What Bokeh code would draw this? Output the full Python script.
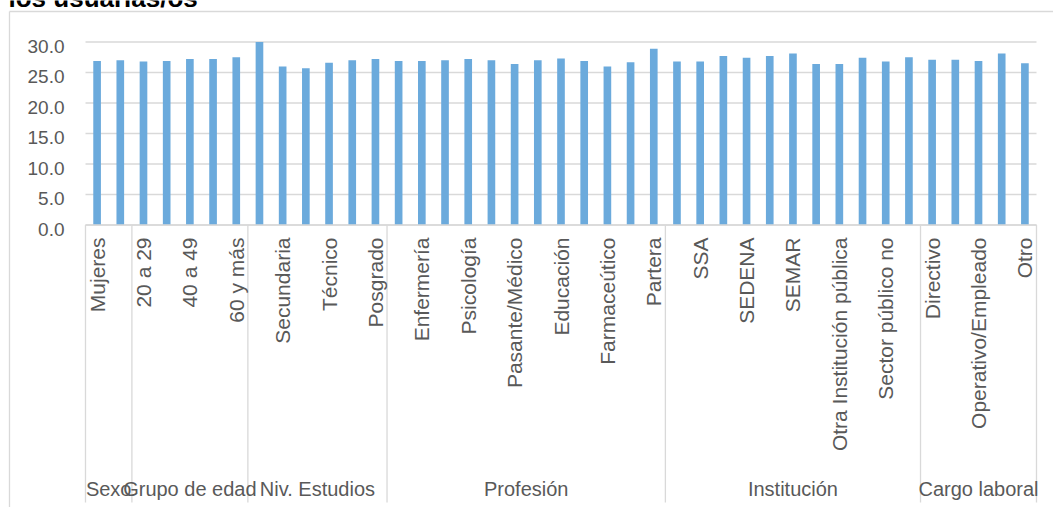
from bokeh.plotting import figure
from bokeh.models import Range1d, ColumnDataSource
from bokeh.core.properties import value
from bokeh.embed import file_html
from bokeh.resources import INLINE
import math

# ---------------- data ----------------
title_text = "los usuarias/os"

group_names = ["Sexo", "Grupo de edad", "Niv. Estudios", "Profesión", "Institución", "Cargo laboral"]
group_sizes = [2, 5, 6, 12, 11, 5]

categories = [
    "Mujeres", "Hombres",
    "20 a 29", "30 a 39", "40 a 49", "50 a 59", "60 y más",
    "Primaria", "Secundaria", "Bachillerato", "Técnico", "Licenciatura", "Posgrado",
    "Medicina", "Enfermería", "Trabajo social", "Psicología", "Nutrición", "Pasante/Médico",
    "Odontología", "Educación", "Promotor de salud", "Farmaceútico", "Químico", "Partera",
    "IMSS", "SSA", "ISSSTE", "SEDENA", "PEMEX", "SEMAR", "Estatal",
    "Otra Institución pública", "Sector privado", "Sector público no", "Ninguna",
    "Directivo", "Mando medio", "Operativo/Empleado", "Eventual", "Otro",
]

values = [
    26.9, 27.0,
    26.8, 26.9, 27.2, 27.2, 27.5,
    30.0, 26.0, 25.7, 26.6, 27.0, 27.2,
    26.9, 26.9, 27.0, 27.2, 27.0, 26.4, 27.0, 27.3, 26.9, 26.0, 26.7, 28.9,
    26.8, 26.8, 27.7, 27.4, 27.7, 28.1, 26.4, 26.4, 27.4, 26.8, 27.5,
    27.1, 27.1, 26.9, 28.1, 26.5,
]

y_ticks = [0, 5, 10, 15, 20, 25, 30]
y_tick_labels = ["0.0", "5.0", "10.0", "15.0", "20.0", "25.0", "30.0"]

# ---------------- layout (pixels) ----------------
W, H = 1053, 507
plot_left, plot_right = 85, 1036
y0_px, ytop_px = 224.5, 41.5          # screen y (from top) of value 0 and of the top tick
n = len(values)
cw = (plot_right - plot_left) / n      # pixels per category
ppu = (y0_px - ytop_px) / y_ticks[-1]  # pixels per value unit

x_start = -plot_left / cw
x_end = n + (W - plot_right) / cw
y_start = -(H - y0_px) / ppu
y_end = y_ticks[-1] + ytop_px / ppu

def fx(px):
    return x_start + px / cw

def fy(py):
    return y_end - py / ppu

FONT = value("Liberation Sans")
GRAY_TXT = "#595959"
LINE = "#D9D9D9"
BAR = "#6BAADC"

p = figure(width=W, height=H, output_backend="svg", toolbar_location=None,
           x_range=Range1d(x_start, x_end), y_range=Range1d(y_start, y_end),
           x_axis_type=None, y_axis_type=None, min_border=0, title=None)
p.outline_line_color = None
p.background_fill_color = "white"
p.border_fill_color = "white"

# chart border (top and left)
p.segment(x0=[fx(9), fx(9)], y0=[fy(11), fy(11)], x1=[fx(W), fx(9)], y1=[fy(11), fy(H)],
          line_color=LINE, line_width=1.3)

# gridlines
p.segment(x0=[0] * len(y_ticks), y0=y_ticks, x1=[n] * len(y_ticks), y1=y_ticks,
          line_color=LINE, line_width=1.3)

# y tick labels
p.text(x=[fx(64)] * len(y_ticks), y=y_ticks, text=y_tick_labels,
       text_font=FONT, text_font_size=value("19px"), text_color=GRAY_TXT,
       text_align="right", text_baseline="middle", y_offset=4)

# bars
xs = [i + 0.5 for i in range(n)]
src = ColumnDataSource(dict(x=xs, top=values, cat=categories))
p.vbar(x="x", top="top", bottom=0, width=0.33, source=src,
       fill_color=BAR, line_color=None)

# category axis line
p.segment(x0=[0], y0=[0], x1=[n], y1=[0], line_color=LINE, line_width=1.5)

# group separators and group labels
bounds = [0]
for s in group_sizes:
    bounds.append(bounds[-1] + s)
p.segment(x0=bounds, y0=[0] * len(bounds), x1=bounds, y1=[fy(502)] * len(bounds),
          line_color=LINE, line_width=1.3)

centers = [(bounds[i] + bounds[i + 1]) / 2 for i in range(len(group_sizes))]
p.text(x=centers, y=[fy(488)] * len(centers), text=group_names,
       text_font=FONT, text_font_size=value("20px"), text_color=GRAY_TXT,
       text_align="center", text_baseline="middle")

# rotated category labels (every other category, as in the original)
lab_idx = list(range(0, n, 2))
p.text(x=[xs[i] for i in lab_idx], y=[fy(237)] * len(lab_idx),
       text=[categories[i] for i in lab_idx], angle=math.pi / 2,
       text_font=FONT, text_font_size=value("21px"), text_color=GRAY_TXT,
       text_align="right", text_baseline="middle")

# title (partially cut at the top, as in the original)
p.text(x=[fx(8)], y=[fy(-3)], text=[title_text],
       text_font=FONT, text_font_size=value("26px"), text_font_style="bold",
       text_color="black", text_align="left", text_baseline="alphabetic")

open("out.html", "w").write(file_html(p, INLINE))
